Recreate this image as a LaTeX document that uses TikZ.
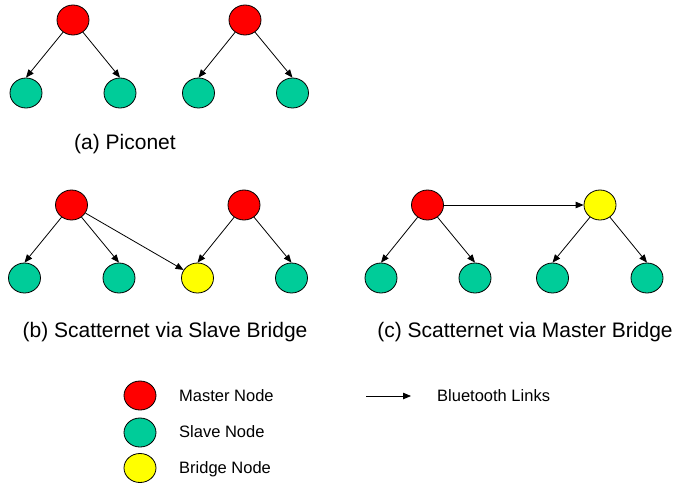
\documentclass[tikz,border=0pt]{standalone}
\usepackage{fontspec}
\setmainfont{Liberation Sans}
\usetikzlibrary{arrows.meta,shapes.geometric}
\definecolor{mred}{HTML}{FF0000}
\definecolor{sgreen}{HTML}{00CC99}
\definecolor{byellow}{HTML}{FFFF00}
\tikzset{
  nd/.style={ellipse,draw=black,line width=0.8pt,minimum width=32pt,minimum height=30pt,inner sep=0pt},
  master/.style={nd,fill=mred},
  slave/.style={nd,fill=sgreen},
  bridge/.style={nd,fill=byellow},
  link/.style={line width=0.8pt,-{Triangle[length=8pt,width=6.5pt]}},
  captext/.style={font=\fontsize{21}{24}\selectfont,anchor=base},
  legtext/.style={font=\fontsize{16.5}{19}\selectfont,anchor=base west,inner sep=0pt}
}
\begin{document}
\begin{tikzpicture}[x=1pt,y=-1pt]
\useasboundingbox (0,0) rectangle (676,485);
% (a) Piconet
\node[master] (a1) at (73,20) {};
\node[slave] (a1s1) at (26,93) {};
\node[slave] (a1s2) at (120,93) {};
\node[master] (a2) at (245,20) {};
\node[slave] (a2s1) at (198.5,93) {};
\node[slave] (a2s2) at (292.5,93) {};
\draw[link] (a1) -- (a1s1.north);
\draw[link] (a1) -- (a1s2.north);
\draw[link] (a2) -- (a2s1.north);
\draw[link] (a2) -- (a2s2.north);
\node[captext] (capa) at (125,149.5) {(a) Piconet};
% (b) Scatternet via Slave Bridge
\node[master] (b1) at (71.5,205) {};
\node[slave] (b1s1) at (24.5,278) {};
\node[slave] (b1s2) at (119,278) {};
\node[master] (b2) at (244,205) {};
\node[bridge] (bb) at (197.5,278) {};
\node[slave] (b2s2) at (291.5,278) {};
\draw[link] (b1) -- (b1s1.north);
\draw[link] (b1) -- (b1s2.north);
\draw[link] (b1) -- (bb);
\draw[link] (b2) -- (bb.north);
\draw[link] (b2) -- (b2s2.north);
\node[captext] (capb) at (165,337) {(b) Scatternet via Slave Bridge};
% (c) Scatternet via Master Bridge
\node[master] (c1) at (427.5,205) {};
\node[bridge] (cb) at (600,205) {};
\node[slave] (c1s1) at (381,278) {};
\node[slave] (c1s2) at (475,278) {};
\node[slave] (c2s1) at (552.5,278) {};
\node[slave] (c2s2) at (647,278) {};
\draw[link] (c1) -- (cb);
\draw[link] (c1) -- (c1s1.north);
\draw[link] (c1) -- (c1s2.north);
\draw[link] (cb) -- (c2s1.north);
\draw[link] (cb) -- (c2s2.north);
\node[captext] (capc) at (525,337) {(c) Scatternet via Master Bridge};
% Legend
\node[master,minimum height=29pt] (lm) at (140,395.5) {};
\node[slave,minimum height=29pt] (ls) at (140,432.5) {};
\node[bridge,minimum height=29pt] (lb) at (140,468) {};
\node[legtext] (lmt) at (179,401) {Master Node};
\node[legtext] (lst) at (179,437) {Slave Node};
\node[legtext] (lbt) at (179,473.5) {Bridge Node};
\coordinate (la1) at (366,396);
\coordinate (la2) at (411,396);
\draw[link] (la1) -- (la2);
\node[legtext] (llt) at (437,401) {Bluetooth Links};
\end{tikzpicture}
\end{document}
